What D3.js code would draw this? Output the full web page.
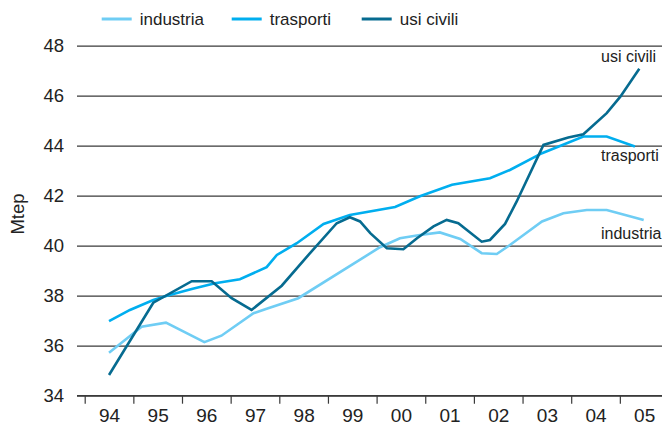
<!DOCTYPE html>
<html>
<head>
<meta charset="utf-8">
<script src="https://cdn.jsdelivr.net/npm/d3@7"></script>
<style>
  body { margin: 0; background: #fff; }
  svg { display: block; font-family: "Liberation Sans", Arial, sans-serif; }
  .grid line { stroke: #3a3a3a; stroke-width: 1.2; }
  .xaxis line, .xaxis path { stroke: #3a3a3a; stroke-width: 1.2; }
</style>
</head>
<body>
<svg width="662" height="428"></svg>
<script>
// year labels on the x axis
const yearLabels = ["94", "95", "96", "97", "98", "99", "00", "01", "02", "03", "04", "05"];
const years = d3.range(1994, 2006);
const yTicks = [34, 36, 38, 40, 42, 44, 46, 48];

// Mtep [year, value]
const industria = [
  [1994.00, 35.72], [1994.67, 36.76], [1995.17, 36.92], [1995.96, 36.14], [1996.31, 36.40],
  [1996.97, 37.30], [1997.24, 37.48], [1997.89, 37.90], [1999.57, 39.94], [1999.98, 40.30],
  [2000.39, 40.43], [2000.80, 40.53], [2001.22, 40.27], [2001.66, 39.70], [2001.97, 39.67],
  [2002.24, 40.03], [2002.66, 40.63], [2002.90, 40.97], [2003.34, 41.30], [2003.82, 41.43],
  [2004.23, 41.43], [2004.99, 41.03]
];
const trasporti = [
  [1994.00, 36.98], [1994.43, 37.43], [1994.91, 37.83], [1995.19, 38.00], [1995.70, 38.27],
  [1996.18, 38.50], [1996.69, 38.66], [1997.24, 39.14], [1997.45, 39.63], [1997.86, 40.10],
  [1998.41, 40.87], [1998.95, 41.23], [1999.88, 41.55], [2000.39, 41.98], [2001.05, 42.44],
  [2001.83, 42.70], [2002.24, 43.03], [2002.90, 43.70], [2003.75, 44.37], [2004.23, 44.37],
  [2004.81, 43.97]
];
const usiCivili = [
  [1994.00, 34.83], [1994.91, 37.72], [1995.70, 38.58], [1996.11, 38.58], [1996.52, 37.90],
  [1996.93, 37.43], [1997.55, 38.40], [1998.10, 39.63], [1998.68, 40.90], [1998.95, 41.14],
  [1999.16, 40.97], [1999.37, 40.50], [1999.71, 39.90], [2000.05, 39.86], [2000.33, 40.30],
  [2000.67, 40.77], [2000.94, 41.03], [2001.18, 40.90], [2001.66, 40.16], [2001.83, 40.23],
  [2002.14, 40.87], [2002.38, 41.77], [2002.93, 44.03], [2003.44, 44.33], [2003.75, 44.46],
  [2004.23, 45.30], [2004.51, 45.96], [2004.90, 47.08]
];

const series = [
  { name: "industria", data: industria, color: "#6fcdf4", labelY: 239 },
  { name: "trasporti", data: trasporti, color: "#00aeef", labelY: 161 },
  { name: "usi civili", data: usiCivili, color: "#066b90", labelY: 62 }
];

const svg = d3.select("svg");
const left = 77, right = 662;

const x = d3.scaleLinear()
    .domain([1993.5, 2005.5])
    .range([84.7, 668.5]);

const y = d3.scaleLinear()
    .domain([34, 48])
    .range([395.7, 45.7]);

// horizontal grid + y labels
svg.append("g")
    .attr("class", "grid")
    .attr("transform", `translate(${left},0)`)
    .call(d3.axisLeft(y).tickValues(yTicks).tickSize(-(right - left)).tickPadding(13))
    .call(g => g.select(".domain").remove())
    .selectAll("text")
      .attr("font-size", "18.5px")
      .attr("fill", "#222")
      .attr("font-family", "Liberation Sans, Arial, sans-serif");

// x axis: ticks between years
svg.append("g")
    .attr("class", "xaxis")
    .attr("transform", "translate(0,395.7)")
    .call(d3.axisBottom(x).tickValues(d3.range(1993.5, 2006, 1)).tickSize(8).tickSizeOuter(0).tickFormat(""))
    .call(g => g.select(".domain").attr("d", `M${left},0H${right}`));

// year labels in the middle of each year
svg.append("g")
    .attr("transform", "translate(0,395.7)")
    .call(d3.axisBottom(x).tickValues(years).tickSize(0).tickPadding(13)
      .tickFormat((d, i) => yearLabels[i]))
    .call(g => g.select(".domain").remove())
    .selectAll("text")
      .attr("font-size", "19px")
      .attr("fill", "#222")
      .attr("font-family", "Liberation Sans, Arial, sans-serif");

// lines
const line = d3.line()
    .x(d => x(d[0]))
    .y(d => y(d[1]));

svg.selectAll(".serie")
    .data(series)
    .enter().append("path")
      .attr("class", "serie")
      .attr("fill", "none")
      .attr("stroke", d => d.color)
      .attr("stroke-width", 2.6)
      .attr("stroke-linejoin", "miter")
      .attr("d", d => line(d.data));

// labels at the end of the lines
svg.selectAll(".endlabel")
    .data(series)
    .enter().append("text")
      .attr("x", 601)
      .attr("y", d => d.labelY)
      .attr("font-size", "16px")
      .attr("fill", "#222")
      .text(d => d.name);

// legend
const legend = svg.selectAll(".legend")
    .data(series)
    .enter().append("g")
      .attr("transform", (d, i) => `translate(${101.7 + i * 130},19)`);

legend.append("line")
    .attr("x1", 0).attr("x2", 30)
    .attr("stroke", d => d.color)
    .attr("stroke-width", 3);

legend.append("text")
    .attr("x", 38)
    .attr("y", 6)
    .attr("font-size", "17px")
    .attr("fill", "#222")
    .text(d => d.name);

// y axis title
svg.append("text")
    .attr("transform", "translate(24,214) rotate(-90)")
    .attr("text-anchor", "middle")
    .attr("font-size", "18.5px")
    .attr("fill", "#222")
    .text("Mtep");
</script>
</body>
</html>
